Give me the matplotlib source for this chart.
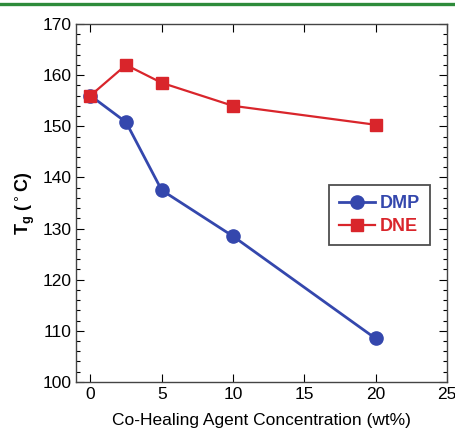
import matplotlib
matplotlib.use("Agg")
import matplotlib.pyplot as plt
from matplotlib.lines import Line2D
from matplotlib.ticker import MultipleLocator

plt.rcParams['font.family'] = ['Liberation Sans', 'DejaVu Sans']

# concentratie (wt%) en Tg (°C)
conc = [0, 2.5, 5, 10, 20]
tg_dmp = [156.0, 150.8, 137.5, 128.5, 108.5]
tg_dne = [156.0, 162.0, 158.5, 154.0, 150.3]

blauw = '#3447ad'
rood = '#d9252b'

fig = plt.figure(figsize=(4.56, 4.37), dpi=100)
ax = fig.add_axes([0.167, 0.126, 0.813, 0.819])

# groene lijn bovenaan
fig.add_artist(Line2D([0, 1], [0.99, 0.99], color='#2e8b3a', linewidth=2.4,
                      transform=fig.transFigure))

ax.plot(conc, tg_dmp, color=blauw, marker='o', markersize=9.5, linewidth=2, label='DMP')
ax.plot(conc, tg_dne, color=rood, marker='s', markersize=9, linewidth=1.6, label='DNE')

ax.set_xlim(-1, 25)
ax.set_ylim(100, 170)
ax.xaxis.set_major_locator(MultipleLocator(5))
ax.yaxis.set_major_locator(MultipleLocator(10))
ax.yaxis.set_minor_locator(MultipleLocator(2))
ax.tick_params(which='both', direction='in', top=True, right=True, labelsize=12.5)
ax.tick_params(which='major', length=6, width=0.8)
ax.tick_params(which='minor', length=3, width=0.8)
for s in ax.spines.values():
    s.set_color('#444444')
    s.set_linewidth(1)

ax.set_xlabel('Co-Healing Agent Concentration (wt%)', fontsize=12.5, labelpad=8)
ax.set_ylabel(r'T$_\mathregular{g}$ ($^\circ$C)', fontsize=13, fontweight='bold', labelpad=4)

leg = ax.legend(loc='center', bbox_to_anchor=(0.818, 0.466), frameon=True,
                fancybox=False, edgecolor='#222222', fontsize=13, handlelength=2.0,
                borderpad=0.55, labelspacing=0.35, handletextpad=0.3, borderaxespad=0)
leg.get_frame().set_linewidth(1.3)
for tekst, kleur in zip(leg.get_texts(), [blauw, rood]):
    tekst.set_color(kleur)
    tekst.set_fontweight('bold')

fig.savefig('out.png', dpi=100)
